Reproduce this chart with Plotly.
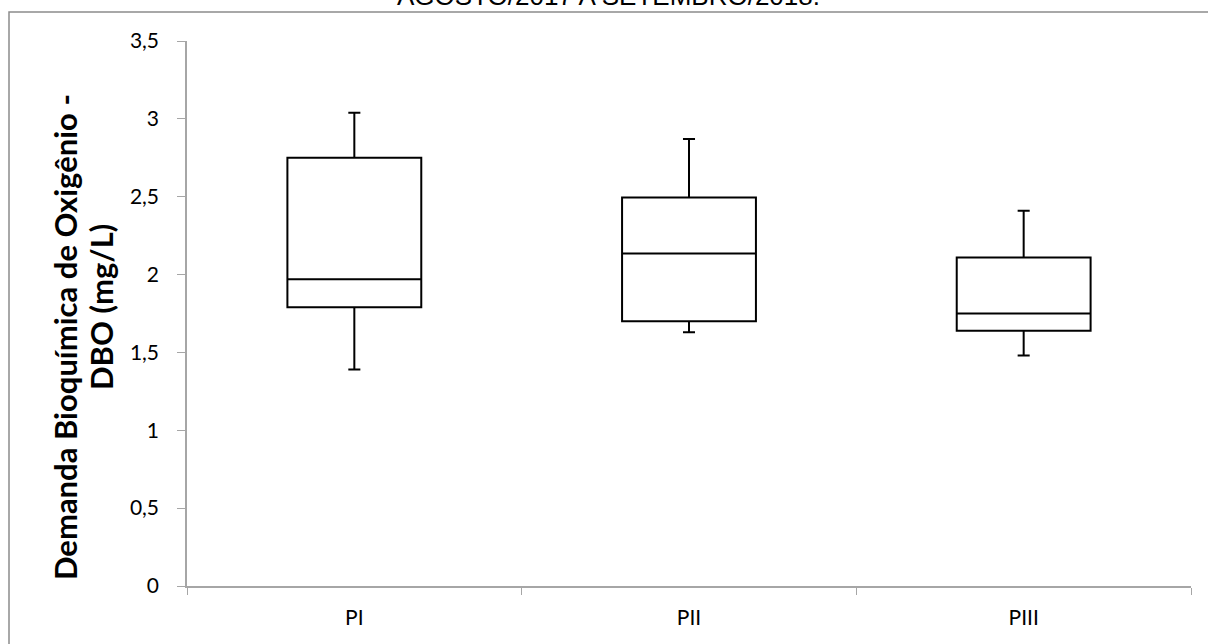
import plotly.graph_objects as go

categories = ["PI", "PII", "PIII"]
lower = [1.39, 1.63, 1.48]
q1 = [1.79, 1.70, 1.64]
median = [1.97, 2.135, 1.75]
q3 = [2.75, 2.495, 2.11]
upper = [3.04, 2.87, 2.41]
y_ticks = [0, 0.5, 1, 1.5, 2, 2.5, 3, 3.5]

title_text = "AGOSTO/2017 A SETEMBRO/2018."
ytitle_1 = "Demanda Bioquímica de Oxigênio -"
ytitle_2 = "DBO (mg/L)"

W, H = 1208, 644
L, R, T, B = 187, 17, 41, 58
pw, ph = W - L - R, H - T - B

def px_x(p):
    return (p - L) / pw

def px_y(p):
    return (H - B - p) / ph

fig = go.Figure()
fig.add_trace(go.Box(
    x=categories, q1=q1, median=median, q3=q3,
    lowerfence=lower, upperfence=upper,
    boxpoints=False, width=0.4, whiskerwidth=0.09,
    fillcolor="white", line=dict(color="black", width=2),
    showlegend=False, hoverinfo="skip",
))

fig.update_layout(
    width=W, height=H,
    margin=dict(l=L, r=R, t=T, b=B),
    paper_bgcolor="white", plot_bgcolor="white",
    separators=",.",
    font=dict(family="Lato", color="black"),
    xaxis=dict(
        type="category", range=[-0.5, 2.5],
        showline=True, linecolor="#a6a6a6", linewidth=1.5,
        ticks="outside", tickson="boundaries", ticklen=7, tickcolor="#a6a6a6",
        tickfont=dict(size=21, family="Lato"), showgrid=False, zeroline=False,
        ticklabelstandoff=12,
    ),
    yaxis=dict(
        range=[0, 3.5], tickvals=y_ticks,
        showline=True, linecolor="#a6a6a6", linewidth=1.5,
        ticks="outside", ticklen=8, tickcolor="#a6a6a6",
        tickfont=dict(size=21, family="Lato"), showgrid=False, zeroline=False,
        ticklabelstandoff=14,
    ),
    shapes=[dict(
        type="rect", xref="paper", yref="paper",
        x0=px_x(9), x1=px_x(1220), y0=px_y(660), y1=px_y(12),
        line=dict(color="#8c8c8c", width=1.5), fillcolor="rgba(0,0,0,0)", layer="below",
    )],
    annotations=[
        dict(text=title_text, xref="paper", yref="paper", x=px_x(608), y=px_y(13),
             xanchor="center", yanchor="bottom", showarrow=False,
             font=dict(family="Liberation Sans", size=26, color="black")),
        dict(text="<b>" + ytitle_1 + "</b>", xref="paper", yref="paper",
             x=px_x(65), y=px_y(337), xanchor="center", yanchor="middle",
             textangle=-90, showarrow=False,
             font=dict(family="Lato", size=31, color="black")),
        dict(text="<b>" + ytitle_2 + "</b>", xref="paper", yref="paper",
             x=px_x(101), y=px_y(307), xanchor="center", yanchor="middle",
             textangle=-90, showarrow=False,
             font=dict(family="Lato", size=31, color="black")),
    ],
)

fig.write_html("out.html")
